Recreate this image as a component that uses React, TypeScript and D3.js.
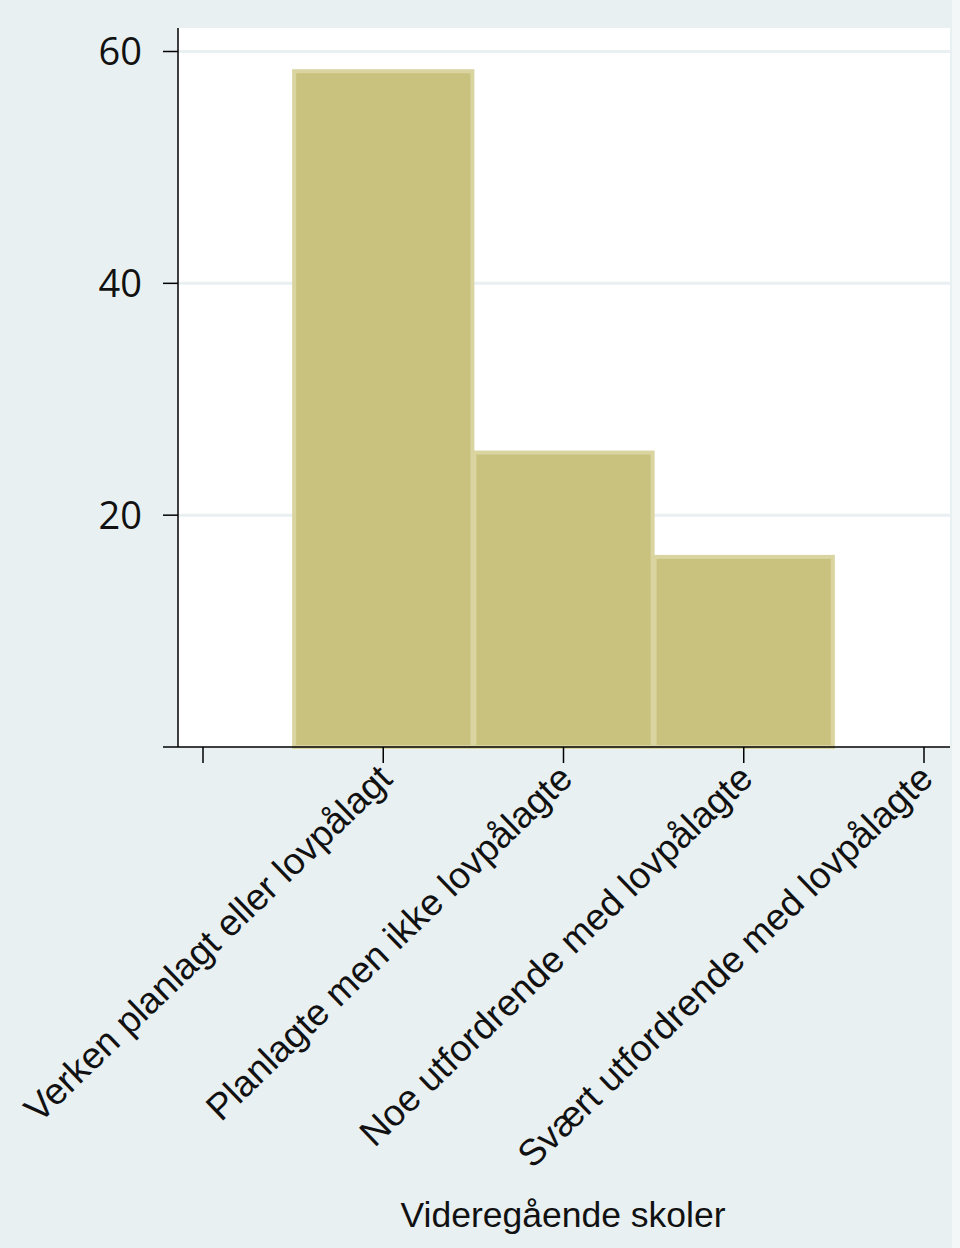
import React from "react";
import * as d3 from "d3";

const categories = [
  "Verken planlagt eller lovpålagt",
  "Planlagte men ikke lovpålagte",
  "Noe utfordrende med lovpålagte",
  "Svært utfordrende med lovpålagte",
];
const categoryValues = [1, 2, 3, 4];
const barValues = [58.3, 25.4, 16.4];
const barPositions = [1, 2, 3];
const xTicks = [0, 1, 2, 3, 4];
const yTicks = [20, 40, 60];
const xTitle = "Videregående skoler";

export default function App() {
  const W = 960;
  const H = 1248;
  const plot = { left: 178, right: 950, top: 28, bottom: 747 };
  const x = d3.scaleLinear().domain([0, 4]).range([203, 924]);
  const y = d3.scaleLinear().domain([0, 60]).range([747, 51.5]);
  const halfW = (x(1) - x(0)) / 2;

  const barFill = "#C9C27E";
  const barStroke = "#DAD4A0";
  const grid = "#E8F0F2";

  return (
    <svg
      width={W}
      height={H}
      viewBox={`0 0 ${W} ${H}`}
      style={{ position: "absolute", left: 0, top: 0 }}
    >
      <rect x={0} y={0} width={W} height={H} fill="#E8F0F2" />
      <rect x={952} y={0} width={8} height={H} fill="#F3F7F8" />
      <rect
        x={plot.left}
        y={plot.top}
        width={plot.right - plot.left}
        height={plot.bottom - plot.top}
        fill="#FFFFFF"
      />
      {yTicks.map((t) => (
        <line
          key={"g" + t}
          x1={plot.left}
          x2={plot.right}
          y1={y(t)}
          y2={y(t)}
          stroke={grid}
          strokeWidth={3}
        />
      ))}
      {barValues.map((v, i) => (
        <rect
          key={"b" + i}
          x={x(barPositions[i]) - halfW + 1}
          y={y(v)}
          width={2 * halfW - 2}
          height={y(0) - y(v)}
          fill={barFill}
          stroke={barStroke}
          strokeWidth={4}
        />
      ))}
      <line x1={plot.left} x2={plot.left} y1={plot.top} y2={plot.bottom} stroke="#000" strokeWidth={1.5} />
      <line x1={163} x2={plot.right} y1={plot.bottom} y2={plot.bottom} stroke="#000" strokeWidth={1.5} />
      {yTicks.map((t) => (
        <g key={"yt" + t}>
          <line x1={163} x2={plot.left} y1={y(t)} y2={y(t)} stroke="#000" strokeWidth={1.5} />
          <text
            x={142}
            y={y(t)}
            dy="0.36em"
            textAnchor="end"
            fontFamily="'Open Sans', sans-serif"
            fontSize={38}
            fill="#111"
          >
            {t}
          </text>
        </g>
      ))}
      {xTicks.map((t) => (
        <line key={"xt" + t} x1={x(t)} x2={x(t)} y1={plot.bottom} y2={763} stroke="#000" strokeWidth={1.5} />
      ))}
      {categories.map((c, i) => {
        const tx = x(categoryValues[i]) + 11;
        const ty = 781;
        return (
          <text
            key={"xl" + i}
            transform={`translate(${tx},${ty}) rotate(-44)`}
            textAnchor="end"
            fontFamily="'Liberation Sans', Arial, sans-serif"
            fontSize={37}
            fill="#111"
          >
            {c}
          </text>
        );
      })}
      <text
        x={563}
        y={1227}
        textAnchor="middle"
        fontFamily="'Liberation Sans', Arial, sans-serif"
        fontSize={35.5}
        fill="#111"
      >
        {xTitle}
      </text>
    </svg>
  );
}
